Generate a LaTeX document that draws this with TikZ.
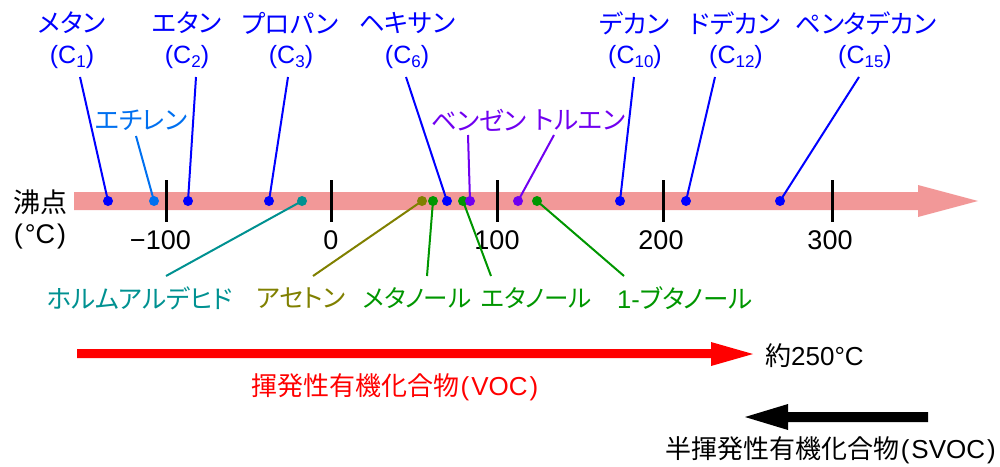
\documentclass[tikz,border=0pt]{standalone}
\usepackage{fontspec}
\setmainfont{Liberation Sans}
\newfontfamily\jp{Noto Sans CJK JP}
\newfontfamily\jpk[RawFeature=+palt]{Noto Sans CJK JP}
\definecolor{cblue}{RGB}{0,0,255}
\definecolor{clblue}{RGB}{0,112,240}
\definecolor{cpurple}{RGB}{112,0,240}
\definecolor{cteal}{RGB}{0,145,145}
\definecolor{colive}{RGB}{128,128,0}
\definecolor{cgreen}{RGB}{0,150,0}
\definecolor{cpink}{RGB}{242,152,152}
\definecolor{cred}{RGB}{255,0,0}
\newcommand\fs[1]{\fontsize{#1}{#1}\selectfont}
\newcommand\subsc[1]{\raisebox{-0.28ex}{\fs{17}#1}}
\begin{document}
\begin{tikzpicture}[x=1pt,y=-1pt,
  kana/.style={inner sep=0pt, font=\jpk\fs{25.5}},
  cform/.style={inner sep=0pt, font=\fs{25}},
  ticklbl/.style={inner sep=0pt, font=\fs{27}},
  dot/.style={circle, inner sep=0pt, minimum size=10pt},
  lead/.style={line width=2pt},
  tickmark/.style={line width=3pt},
]
\useasboundingbox (0,0) rectangle (1000,466);

% axis
\fill[cpink] (74,192) -- (918,192) -- (918,185) -- (978,201) -- (918,217) -- (918,210) -- (74,210) -- cycle;
\foreach \x in {166,331,497,663,832} \draw[tickmark] (\x,180) -- (\x,222);
\node[ticklbl, anchor=east] (tm100) at (191,240) {−100};
\node[ticklbl] (t0) at (331,240) {0};
\node[ticklbl] (t100) at (497,240) {100};
\node[ticklbl] (t200) at (661,240) {200};
\node[ticklbl] (t300) at (830,240) {300};

\node[font=\jp\fs{27}, inner sep=0pt] (bp) at (40,202) {沸点};
\node[font=\fs{27}, inner sep=0pt] (unit) at (40,237) {(\kern2pt°C\kern2pt)};

% top labels
\node[kana, text=cblue] (lmeth) at (72,23) {メタン};
\node[cform, text=cblue] (cmeth) at (72,57) {(C\subsc{1})};
\node[kana, text=cblue] (leth) at (187,23) {エタン};
\node[cform, text=cblue] (ceth) at (187,57) {(C\subsc{2})};
\node[kana, text=cblue] (lprop) at (290,23) {プロパン};
\node[cform, text=cblue] (cprop) at (291,57) {(C\subsc{3})};
\node[kana, text=cblue] (lhex) at (407,23) {ヘキサン};
\node[cform, text=cblue] (chex) at (407,57) {(C\subsc{6})};
\node[kana, text=cblue] (ldec) at (634,23) {デカン};
\node[cform, text=cblue] (cdec) at (635,57) {(C\subsc{10})};
\node[kana, text=cblue] (ldodec) at (735,23) {ドデカン};
\node[cform, text=cblue] (cdodec) at (736,57) {(C\subsc{12})};
\node[kana, text=cblue] (lpenta) at (866,23) {ペンタデカン};
\node[cform, text=cblue] (cpenta) at (865,57) {(C\subsc{15})};

\node[kana, text=clblue] (lethy) at (141,120) {エチレン};
\node[kana, text=cpurple] (lbenz) at (479,120) {ベンゼン};
\node[kana, text=cpurple] (ltol) at (580,120) {トルエン};

% bottom labels
\node[kana, text=cteal] (lform) at (140,298) {ホルムアルデヒド};
\node[kana, text=colive] (lacet) at (301,298) {アセトン};
\node[kana, text=cgreen, font=\jpk\fs{24.5}] (lmol) at (417,298) {メタノール};
\node[kana, text=cgreen, font=\jpk\fs{24.5}] (letol) at (536,298) {エタノール};
\node[kana, text=cgreen] (lbut) at (685,298) {{\fontspec{Liberation Sans}1-}ブタノール};

% leader end coordinates
\coordinate (tmeth) at (80,77);   \coordinate (pmeth) at (108,201);
\coordinate (tethy) at (136,136); \coordinate (pethy) at (154,201);
\coordinate (teth) at (196,77);   \coordinate (peth) at (188,201);
\coordinate (tprop) at (288,77);  \coordinate (pprop) at (269,201);
\coordinate (tform) at (166,276); \coordinate (pform) at (302,201);
\coordinate (tacet) at (313,276); \coordinate (pacet) at (422,201);
\coordinate (tmol) at (427,276);  \coordinate (pmol) at (433,201);
\coordinate (thex) at (406,77);   \coordinate (phex) at (447,201);
\coordinate (tetol) at (491,276); \coordinate (petol) at (463,201);
\coordinate (tbenz) at (468,135); \coordinate (pbenz) at (470,201);
\coordinate (ttol) at (554,135);  \coordinate (ptol) at (518,201);
\coordinate (tbut) at (624,276);  \coordinate (pbut) at (537,201);
\coordinate (tdec) at (634,77);   \coordinate (pdec) at (620,201);
\coordinate (tdodec) at (715,77); \coordinate (pdodec) at (686,201);
\coordinate (tpenta) at (859,77); \coordinate (ppenta) at (780,201);

\draw[lead, cblue] (tmeth) -- (pmeth);
\draw[lead, clblue] (tethy) -- (pethy);
\draw[lead, cblue] (teth) -- (peth);
\draw[lead, cblue] (tprop) -- (pprop);
\draw[lead, cteal] (tform) -- (pform);
\draw[lead, colive] (tacet) -- (pacet);
\draw[lead, cgreen] (tmol) -- (pmol);
\draw[lead, cblue] (thex) -- (phex);
\draw[lead, cgreen] (tetol) -- (petol);
\draw[lead, cpurple] (tbenz) -- (pbenz);
\draw[lead, cpurple] (ttol) -- (ptol);
\draw[lead, cgreen] (tbut) -- (pbut);
\draw[lead, cblue] (tdec) -- (pdec);
\draw[lead, cblue] (tdodec) -- (pdodec);
\draw[lead, cblue] (tpenta) -- (ppenta);

\node[dot, fill=cblue] (dmeth) at (pmeth) {};
\node[dot, fill=clblue] (dethy) at (pethy) {};
\node[dot, fill=cblue] (deth) at (peth) {};
\node[dot, fill=cblue] (dprop) at (pprop) {};
\node[dot, fill=cteal] (dform) at (pform) {};
\node[dot, fill=colive] (dacet) at (pacet) {};
\node[dot, fill=cgreen] (dmol) at (pmol) {};
\node[dot, fill=cblue] (dhex) at (phex) {};
\node[dot, fill=cgreen] (detol) at (petol) {};
\node[dot, fill=cpurple] (dbenz) at (pbenz) {};
\node[dot, fill=cpurple] (dtol) at (ptol) {};
\node[dot, fill=cgreen] (dbut) at (pbut) {};
\node[dot, fill=cblue] (ddec) at (pdec) {};
\node[dot, fill=cblue] (ddodec) at (pdodec) {};
\node[dot, fill=cblue] (dpenta) at (ppenta) {};

% VOC / SVOC arrows
\fill[cred] (77,349) -- (711,349) -- (711,342) -- (753,354) -- (711,366) -- (711,358) -- (77,358) -- cycle;
\node[font=\fs{26}, inner sep=0pt, anchor=west] (t250) at (765,356) {{\jp 約}250°C};
\node[font=\fs{26}, text=cred, inner sep=0pt] (voc) at (395,387) {{\jp 揮発性有機化合物}\kern1pt(\kern2pt VOC\kern2pt)};
\fill[black] (928,412) -- (788,412) -- (788,404) -- (745,417) -- (788,430) -- (788,422) -- (928,422) -- cycle;
\node[font=\fs{26}, inner sep=0pt, anchor=east] (svoc) at (996,450) {{\jp 半揮発性有機化合物}\kern1pt(\kern2pt SVOC\kern2pt)};
\end{tikzpicture}
\end{document}
